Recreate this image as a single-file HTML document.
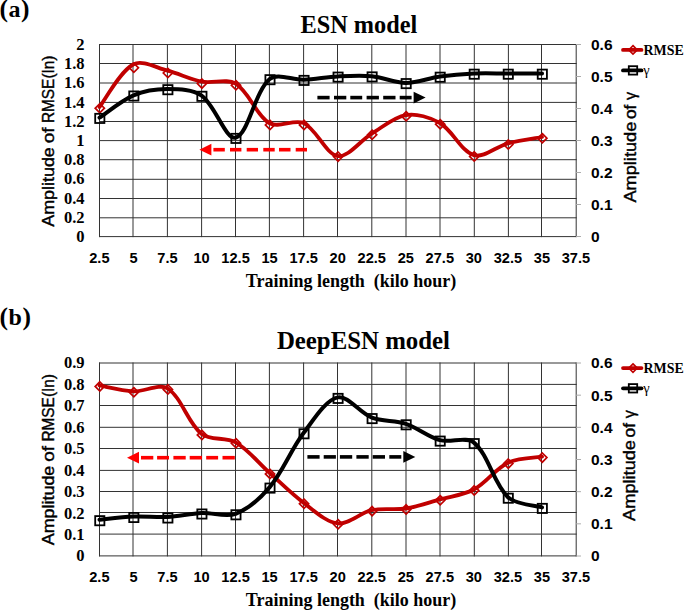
<!DOCTYPE html>
<html><head><meta charset="utf-8">
<style>
html,body{margin:0;padding:0;background:#fff;}
body{width:685px;height:610px;overflow:hidden;font-family:"Liberation Sans", sans-serif;}
svg{display:block;}
</style></head>
<body>
<svg width="685" height="610" viewBox="0 0 685 610">
<rect x="0" y="0" width="685" height="610" fill="#fff"/>
<line x1="99.00" y1="44.50" x2="576.70" y2="44.50" stroke="#333333" stroke-width="1"/>
<line x1="99.00" y1="63.50" x2="576.70" y2="63.50" stroke="#333333" stroke-width="1"/>
<line x1="99.00" y1="83.00" x2="576.70" y2="83.00" stroke="#333333" stroke-width="1"/>
<line x1="99.00" y1="102.40" x2="576.70" y2="102.40" stroke="#333333" stroke-width="1"/>
<line x1="99.00" y1="121.50" x2="576.70" y2="121.50" stroke="#333333" stroke-width="1"/>
<line x1="99.00" y1="140.60" x2="576.70" y2="140.60" stroke="#333333" stroke-width="1"/>
<line x1="99.00" y1="159.70" x2="576.70" y2="159.70" stroke="#333333" stroke-width="1"/>
<line x1="99.00" y1="179.30" x2="576.70" y2="179.30" stroke="#333333" stroke-width="1"/>
<line x1="99.00" y1="198.50" x2="576.70" y2="198.50" stroke="#333333" stroke-width="1"/>
<line x1="99.00" y1="217.80" x2="576.70" y2="217.80" stroke="#333333" stroke-width="1"/>
<line x1="99.00" y1="236.60" x2="576.70" y2="236.60" stroke="#333333" stroke-width="1"/>
<line x1="99.50" y1="44.00" x2="99.50" y2="237.10" stroke="#333333" stroke-width="1"/>
<line x1="133.00" y1="44.00" x2="133.00" y2="237.10" stroke="#333333" stroke-width="1"/>
<line x1="167.40" y1="44.00" x2="167.40" y2="237.10" stroke="#333333" stroke-width="1"/>
<line x1="201.60" y1="44.00" x2="201.60" y2="237.10" stroke="#333333" stroke-width="1"/>
<line x1="235.50" y1="44.00" x2="235.50" y2="237.10" stroke="#333333" stroke-width="1"/>
<line x1="269.40" y1="44.00" x2="269.40" y2="237.10" stroke="#333333" stroke-width="1"/>
<line x1="303.60" y1="44.00" x2="303.60" y2="237.10" stroke="#333333" stroke-width="1"/>
<line x1="337.50" y1="44.00" x2="337.50" y2="237.10" stroke="#333333" stroke-width="1"/>
<line x1="371.80" y1="44.00" x2="371.80" y2="237.10" stroke="#333333" stroke-width="1"/>
<line x1="406.00" y1="44.00" x2="406.00" y2="237.10" stroke="#333333" stroke-width="1"/>
<line x1="440.00" y1="44.00" x2="440.00" y2="237.10" stroke="#333333" stroke-width="1"/>
<line x1="474.30" y1="44.00" x2="474.30" y2="237.10" stroke="#333333" stroke-width="1"/>
<line x1="508.40" y1="44.00" x2="508.40" y2="237.10" stroke="#333333" stroke-width="1"/>
<line x1="541.50" y1="44.00" x2="541.50" y2="237.10" stroke="#333333" stroke-width="1"/>
<line x1="576.20" y1="44.00" x2="576.20" y2="237.10" stroke="#333333" stroke-width="1"/>
<line x1="575.96" y1="44.50" x2="580.96" y2="44.50" stroke="#aaa" stroke-width="1"/>
<line x1="575.96" y1="76.50" x2="580.96" y2="76.50" stroke="#aaa" stroke-width="1"/>
<line x1="575.96" y1="108.50" x2="580.96" y2="108.50" stroke="#aaa" stroke-width="1"/>
<line x1="575.96" y1="140.50" x2="580.96" y2="140.50" stroke="#aaa" stroke-width="1"/>
<line x1="575.96" y1="172.50" x2="580.96" y2="172.50" stroke="#aaa" stroke-width="1"/>
<line x1="575.96" y1="204.50" x2="580.96" y2="204.50" stroke="#aaa" stroke-width="1"/>
<line x1="575.96" y1="236.50" x2="580.96" y2="236.50" stroke="#aaa" stroke-width="1"/>
<text x="84.50" y="49.90" font-size="16.50" font-family='"Liberation Serif", serif' font-weight="bold" text-anchor="end" fill="#000" >2</text>
<text x="84.50" y="69.10" font-size="16.50" font-family='"Liberation Serif", serif' font-weight="bold" text-anchor="end" fill="#000" >1.8</text>
<text x="84.50" y="88.30" font-size="16.50" font-family='"Liberation Serif", serif' font-weight="bold" text-anchor="end" fill="#000" >1.6</text>
<text x="84.50" y="107.50" font-size="16.50" font-family='"Liberation Serif", serif' font-weight="bold" text-anchor="end" fill="#000" >1.4</text>
<text x="84.50" y="126.70" font-size="16.50" font-family='"Liberation Serif", serif' font-weight="bold" text-anchor="end" fill="#000" >1.2</text>
<text x="84.50" y="145.90" font-size="16.50" font-family='"Liberation Serif", serif' font-weight="bold" text-anchor="end" fill="#000" >1</text>
<text x="84.50" y="165.10" font-size="16.50" font-family='"Liberation Serif", serif' font-weight="bold" text-anchor="end" fill="#000" >0.8</text>
<text x="84.50" y="184.30" font-size="16.50" font-family='"Liberation Serif", serif' font-weight="bold" text-anchor="end" fill="#000" >0.6</text>
<text x="84.50" y="203.50" font-size="16.50" font-family='"Liberation Serif", serif' font-weight="bold" text-anchor="end" fill="#000" >0.4</text>
<text x="84.50" y="222.70" font-size="16.50" font-family='"Liberation Serif", serif' font-weight="bold" text-anchor="end" fill="#000" >0.2</text>
<text x="84.50" y="241.90" font-size="16.50" font-family='"Liberation Serif", serif' font-weight="bold" text-anchor="end" fill="#000" >0</text>
<text x="591.00" y="49.90" font-size="15.50" font-family='"Liberation Sans", sans-serif' font-weight="bold" text-anchor="start" fill="#000" >0.6</text>
<text x="591.00" y="81.90" font-size="15.50" font-family='"Liberation Sans", sans-serif' font-weight="bold" text-anchor="start" fill="#000" >0.5</text>
<text x="591.00" y="113.90" font-size="15.50" font-family='"Liberation Sans", sans-serif' font-weight="bold" text-anchor="start" fill="#000" >0.4</text>
<text x="591.00" y="145.90" font-size="15.50" font-family='"Liberation Sans", sans-serif' font-weight="bold" text-anchor="start" fill="#000" >0.3</text>
<text x="591.00" y="177.90" font-size="15.50" font-family='"Liberation Sans", sans-serif' font-weight="bold" text-anchor="start" fill="#000" >0.2</text>
<text x="591.00" y="209.90" font-size="15.50" font-family='"Liberation Sans", sans-serif' font-weight="bold" text-anchor="start" fill="#000" >0.1</text>
<text x="591.00" y="241.90" font-size="15.50" font-family='"Liberation Sans", sans-serif' font-weight="bold" text-anchor="start" fill="#000" >0</text>
<text x="99.40" y="263.30" font-size="14.60" font-family='"Liberation Sans", sans-serif' font-weight="bold" text-anchor="middle" fill="#000" >2.5</text>
<text x="133.44" y="263.30" font-size="14.60" font-family='"Liberation Sans", sans-serif' font-weight="bold" text-anchor="middle" fill="#000" >5</text>
<text x="167.48" y="263.30" font-size="14.60" font-family='"Liberation Sans", sans-serif' font-weight="bold" text-anchor="middle" fill="#000" >7.5</text>
<text x="201.52" y="263.30" font-size="14.60" font-family='"Liberation Sans", sans-serif' font-weight="bold" text-anchor="middle" fill="#000" >10</text>
<text x="235.56" y="263.30" font-size="14.60" font-family='"Liberation Sans", sans-serif' font-weight="bold" text-anchor="middle" fill="#000" >12.5</text>
<text x="269.60" y="263.30" font-size="14.60" font-family='"Liberation Sans", sans-serif' font-weight="bold" text-anchor="middle" fill="#000" >15</text>
<text x="303.64" y="263.30" font-size="14.60" font-family='"Liberation Sans", sans-serif' font-weight="bold" text-anchor="middle" fill="#000" >17.5</text>
<text x="337.68" y="263.30" font-size="14.60" font-family='"Liberation Sans", sans-serif' font-weight="bold" text-anchor="middle" fill="#000" >20</text>
<text x="371.72" y="263.30" font-size="14.60" font-family='"Liberation Sans", sans-serif' font-weight="bold" text-anchor="middle" fill="#000" >22.5</text>
<text x="405.76" y="263.30" font-size="14.60" font-family='"Liberation Sans", sans-serif' font-weight="bold" text-anchor="middle" fill="#000" >25</text>
<text x="439.80" y="263.30" font-size="14.60" font-family='"Liberation Sans", sans-serif' font-weight="bold" text-anchor="middle" fill="#000" >27.5</text>
<text x="473.84" y="263.30" font-size="14.60" font-family='"Liberation Sans", sans-serif' font-weight="bold" text-anchor="middle" fill="#000" >30</text>
<text x="507.88" y="263.30" font-size="14.60" font-family='"Liberation Sans", sans-serif' font-weight="bold" text-anchor="middle" fill="#000" >32.5</text>
<text x="541.92" y="263.30" font-size="14.60" font-family='"Liberation Sans", sans-serif' font-weight="bold" text-anchor="middle" fill="#000" >35</text>
<text x="575.96" y="263.30" font-size="14.60" font-family='"Liberation Sans", sans-serif' font-weight="bold" text-anchor="middle" fill="#000" >37.5</text>
<text x="245.80" y="287.30" font-size="19.00" font-family='"Liberation Serif", serif' font-weight="bold" text-anchor="start" fill="#000" textLength="210.50" lengthAdjust="spacingAndGlyphs" >Training length&#160;&#160;(kilo hour)</text>
<text x="54.30" y="226.70" font-size="16.00" font-family='"Liberation Sans", sans-serif' font-weight="normal" text-anchor="start" fill="#000" textLength="79.50" lengthAdjust="spacingAndGlyphs" transform="rotate(-90 54.30 226.70)" stroke="#000" stroke-width="0.40">Amplitude</text>
<text x="54.30" y="143.30" font-size="16.00" font-family='"Liberation Sans", sans-serif' font-weight="normal" text-anchor="start" fill="#000" textLength="15.76" lengthAdjust="spacingAndGlyphs" transform="rotate(-90 54.30 143.30)" stroke="#000" stroke-width="0.40">of</text>
<text x="54.30" y="123.10" font-size="16.00" font-family='"Liberation Sans", sans-serif' font-weight="normal" text-anchor="start" fill="#000" textLength="67.60" lengthAdjust="spacingAndGlyphs" transform="rotate(-90 54.30 123.10)" stroke="#000" stroke-width="0.40">RMSE(In)</text>
<text x="635.60" y="202.60" font-size="16.00" font-family='"Liberation Sans", sans-serif' font-weight="normal" text-anchor="start" fill="#000" textLength="80.90" lengthAdjust="spacingAndGlyphs" transform="rotate(-90 635.60 202.60)" stroke="#000" stroke-width="0.40">Amplitude</text>
<text x="635.60" y="119.10" font-size="16.00" font-family='"Liberation Sans", sans-serif' font-weight="normal" text-anchor="start" fill="#000" textLength="14.47" lengthAdjust="spacingAndGlyphs" transform="rotate(-90 635.60 119.10)" stroke="#000" stroke-width="0.40">of</text>
<text x="635.60" y="99.90" font-size="16.00" font-family='"Liberation Sans", sans-serif' font-weight="normal" text-anchor="start" fill="#000" textLength="8.10" lengthAdjust="spacingAndGlyphs" transform="rotate(-90 635.60 99.90)" stroke="#000" stroke-width="0.40">&#947;</text>
<text x="300.50" y="33.40" font-size="25.00" font-family='"Liberation Serif", serif' font-weight="bold" text-anchor="start" fill="#000" textLength="116.70" lengthAdjust="spacingAndGlyphs" >ESN model</text>
<text x="-0.6" y="17.30" font-size="25.5" font-family='"Liberation Serif", serif' font-weight="bold">(<tspan dx="0.6" font-size="24">a</tspan><tspan dx="0.6">)</tspan></text>
<line x1="623" y1="49.90" x2="641.5" y2="49.90" stroke="#c00000" stroke-width="3.8" stroke-linecap="round"/>
<path d="M633.00,45.70 L637.20,49.90 L633.00,54.10 L628.80,49.90 Z" fill="none" stroke="#c00000" stroke-width="1.7"/>
<text x="643.50" y="54.90" font-size="14.00" font-family='"Liberation Serif", serif' font-weight="bold" text-anchor="start" fill="#000" textLength="40.20" lengthAdjust="spacingAndGlyphs" >RMSE</text>
<line x1="623" y1="70.40" x2="641.5" y2="70.40" stroke="#000" stroke-width="3.8" stroke-linecap="round"/>
<rect x="628.80" y="66.20" width="8.40" height="8.40" fill="none" stroke="#000" stroke-width="1.8"/>
<text x="643.30" y="75.00" font-size="14.50" font-family='"Liberation Serif", serif' font-weight="normal" text-anchor="start" fill="#000" >&#947;</text>
<path d="M99.80,103.60 L104.40,108.20 L99.80,112.80 L95.20,108.20 Z" fill="none" stroke="#c00000" stroke-width="1.7"/>
<path d="M133.84,63.20 L138.44,67.80 L133.84,72.40 L129.24,67.80 Z" fill="none" stroke="#c00000" stroke-width="1.7"/>
<path d="M167.88,68.40 L172.48,73.00 L167.88,77.60 L163.28,73.00 Z" fill="none" stroke="#c00000" stroke-width="1.7"/>
<path d="M201.92,79.00 L206.52,83.60 L201.92,88.20 L197.32,83.60 Z" fill="none" stroke="#c00000" stroke-width="1.7"/>
<path d="M235.96,80.60 L240.56,85.20 L235.96,89.80 L231.36,85.20 Z" fill="none" stroke="#c00000" stroke-width="1.7"/>
<path d="M270.00,120.30 L274.60,124.90 L270.00,129.50 L265.40,124.90 Z" fill="none" stroke="#c00000" stroke-width="1.7"/>
<path d="M304.04,120.30 L308.64,124.90 L304.04,129.50 L299.44,124.90 Z" fill="none" stroke="#c00000" stroke-width="1.7"/>
<path d="M338.08,152.00 L342.68,156.60 L338.08,161.20 L333.48,156.60 Z" fill="none" stroke="#c00000" stroke-width="1.7"/>
<path d="M372.12,130.20 L376.72,134.80 L372.12,139.40 L367.52,134.80 Z" fill="none" stroke="#c00000" stroke-width="1.7"/>
<path d="M406.16,111.70 L410.76,116.30 L406.16,120.90 L401.56,116.30 Z" fill="none" stroke="#c00000" stroke-width="1.7"/>
<path d="M440.20,119.60 L444.80,124.20 L440.20,128.80 L435.60,124.20 Z" fill="none" stroke="#c00000" stroke-width="1.7"/>
<path d="M474.24,151.80 L478.84,156.40 L474.24,161.00 L469.64,156.40 Z" fill="none" stroke="#c00000" stroke-width="1.7"/>
<path d="M508.28,139.90 L512.88,144.50 L508.28,149.10 L503.68,144.50 Z" fill="none" stroke="#c00000" stroke-width="1.7"/>
<path d="M542.32,133.60 L546.92,138.20 L542.32,142.80 L537.72,138.20 Z" fill="none" stroke="#c00000" stroke-width="1.7"/>
<rect x="95.20" y="113.80" width="9.20" height="9.20" fill="none" stroke="#000" stroke-width="1.8"/>
<rect x="129.24" y="91.40" width="9.20" height="9.20" fill="none" stroke="#000" stroke-width="1.8"/>
<rect x="163.28" y="85.10" width="9.20" height="9.20" fill="none" stroke="#000" stroke-width="1.8"/>
<rect x="197.32" y="91.70" width="9.20" height="9.20" fill="none" stroke="#000" stroke-width="1.8"/>
<rect x="231.36" y="133.80" width="9.20" height="9.20" fill="none" stroke="#000" stroke-width="1.8"/>
<rect x="265.40" y="75.10" width="9.20" height="9.20" fill="none" stroke="#000" stroke-width="1.8"/>
<rect x="299.44" y="75.80" width="9.20" height="9.20" fill="none" stroke="#000" stroke-width="1.8"/>
<rect x="333.48" y="72.50" width="9.20" height="9.20" fill="none" stroke="#000" stroke-width="1.8"/>
<rect x="367.52" y="72.30" width="9.20" height="9.20" fill="none" stroke="#000" stroke-width="1.8"/>
<rect x="401.56" y="79.00" width="9.20" height="9.20" fill="none" stroke="#000" stroke-width="1.8"/>
<rect x="435.60" y="72.60" width="9.20" height="9.20" fill="none" stroke="#000" stroke-width="1.8"/>
<rect x="469.64" y="69.60" width="9.20" height="9.20" fill="none" stroke="#000" stroke-width="1.8"/>
<rect x="503.68" y="69.60" width="9.20" height="9.20" fill="none" stroke="#000" stroke-width="1.8"/>
<rect x="537.72" y="69.60" width="9.20" height="9.20" fill="none" stroke="#000" stroke-width="1.8"/>
<path d="M99.50,107.00 C105.17,99.88 119.65,71.70 133.54,64.30 C142.35,59.60 156.41,67.86 167.58,70.70 C179.11,73.63 190.01,79.38 201.62,81.60 C212.70,83.72 226.70,78.20 235.66,83.70 C249.40,92.13 255.95,115.44 269.70,123.40 C278.65,128.58 294.25,118.55 303.74,123.10 C316.94,129.42 325.58,154.12 337.78,156.00 C348.28,157.62 360.19,140.59 371.82,133.60 C382.88,126.96 393.93,116.96 405.86,115.10 C416.62,113.42 430.21,117.29 439.90,123.00 C452.90,130.66 461.12,151.38 473.94,155.20 C483.81,158.14 496.40,146.40 507.98,143.30 C519.10,140.33 536.35,138.05 542.02,137.00" fill="none" stroke="#c00000" stroke-width="3.8" stroke-linecap="round" stroke-linejoin="round"/>
<path d="M99.50,117.70 C105.17,113.97 121.27,100.47 133.54,95.30 C143.96,90.91 156.24,88.95 167.58,89.00 C178.94,89.05 192.76,89.26 201.62,95.60 C215.45,105.50 225.59,140.16 235.66,137.70 C248.28,134.62 254.59,91.87 269.70,79.00 C277.28,72.54 292.42,80.13 303.74,79.70 C315.11,79.27 326.41,76.98 337.78,76.40 C349.10,75.82 360.58,75.13 371.82,76.20 C383.27,77.29 394.50,82.85 405.86,82.90 C417.20,82.95 428.48,78.08 439.90,76.50 C451.17,74.94 462.57,74.00 473.94,73.50 C485.26,73.00 496.63,73.50 507.98,73.50 C519.33,73.50 536.35,73.50 542.02,73.50" fill="none" stroke="#000" stroke-width="4.0" stroke-linecap="round" stroke-linejoin="round"/>
<rect x="213.40" y="147.90" width="11.40" height="3.60" fill="#ff0000"/>
<rect x="230.00" y="147.90" width="11.40" height="3.60" fill="#ff0000"/>
<rect x="246.70" y="147.90" width="11.30" height="3.60" fill="#ff0000"/>
<rect x="263.30" y="147.90" width="11.40" height="3.60" fill="#ff0000"/>
<rect x="279.00" y="147.90" width="11.50" height="3.60" fill="#ff0000"/>
<rect x="295.70" y="147.90" width="11.30" height="3.60" fill="#ff0000"/>
<path d="M199.40,149.70 L211.40,143.85 L211.40,155.55 Z" fill="#ff0000"/>
<rect x="317.40" y="95.80" width="12.20" height="3.60" fill="#000"/>
<rect x="334.00" y="95.80" width="12.30" height="3.60" fill="#000"/>
<rect x="350.30" y="95.80" width="11.90" height="3.60" fill="#000"/>
<rect x="366.60" y="95.80" width="12.30" height="3.60" fill="#000"/>
<rect x="383.20" y="95.80" width="12.30" height="3.60" fill="#000"/>
<rect x="399.70" y="95.80" width="11.90" height="3.60" fill="#000"/>
<path d="M425.60,97.60 L413.60,91.75 L413.60,103.45 Z" fill="#000"/>
<line x1="99.00" y1="363.00" x2="576.70" y2="363.00" stroke="#333333" stroke-width="1"/>
<line x1="99.00" y1="384.40" x2="576.70" y2="384.40" stroke="#333333" stroke-width="1"/>
<line x1="99.00" y1="405.50" x2="576.70" y2="405.50" stroke="#333333" stroke-width="1"/>
<line x1="99.00" y1="427.30" x2="576.70" y2="427.30" stroke="#333333" stroke-width="1"/>
<line x1="99.00" y1="448.50" x2="576.70" y2="448.50" stroke="#333333" stroke-width="1"/>
<line x1="99.00" y1="470.40" x2="576.70" y2="470.40" stroke="#333333" stroke-width="1"/>
<line x1="99.00" y1="491.50" x2="576.70" y2="491.50" stroke="#333333" stroke-width="1"/>
<line x1="99.00" y1="512.50" x2="576.70" y2="512.50" stroke="#333333" stroke-width="1"/>
<line x1="99.00" y1="534.10" x2="576.70" y2="534.10" stroke="#333333" stroke-width="1"/>
<line x1="99.00" y1="555.90" x2="576.70" y2="555.90" stroke="#333333" stroke-width="1"/>
<line x1="99.50" y1="362.50" x2="99.50" y2="556.40" stroke="#333333" stroke-width="1"/>
<line x1="133.00" y1="362.50" x2="133.00" y2="556.40" stroke="#333333" stroke-width="1"/>
<line x1="167.40" y1="362.50" x2="167.40" y2="556.40" stroke="#333333" stroke-width="1"/>
<line x1="201.60" y1="362.50" x2="201.60" y2="556.40" stroke="#333333" stroke-width="1"/>
<line x1="235.50" y1="362.50" x2="235.50" y2="556.40" stroke="#333333" stroke-width="1"/>
<line x1="269.40" y1="362.50" x2="269.40" y2="556.40" stroke="#333333" stroke-width="1"/>
<line x1="303.60" y1="362.50" x2="303.60" y2="556.40" stroke="#333333" stroke-width="1"/>
<line x1="337.50" y1="362.50" x2="337.50" y2="556.40" stroke="#333333" stroke-width="1"/>
<line x1="371.80" y1="362.50" x2="371.80" y2="556.40" stroke="#333333" stroke-width="1"/>
<line x1="406.00" y1="362.50" x2="406.00" y2="556.40" stroke="#333333" stroke-width="1"/>
<line x1="440.00" y1="362.50" x2="440.00" y2="556.40" stroke="#333333" stroke-width="1"/>
<line x1="474.30" y1="362.50" x2="474.30" y2="556.40" stroke="#333333" stroke-width="1"/>
<line x1="508.40" y1="362.50" x2="508.40" y2="556.40" stroke="#333333" stroke-width="1"/>
<line x1="541.50" y1="362.50" x2="541.50" y2="556.40" stroke="#333333" stroke-width="1"/>
<line x1="576.20" y1="362.50" x2="576.20" y2="556.40" stroke="#333333" stroke-width="1"/>
<line x1="575.96" y1="363.00" x2="580.96" y2="363.00" stroke="#aaa" stroke-width="1"/>
<line x1="575.96" y1="395.17" x2="580.96" y2="395.17" stroke="#aaa" stroke-width="1"/>
<line x1="575.96" y1="427.33" x2="580.96" y2="427.33" stroke="#aaa" stroke-width="1"/>
<line x1="575.96" y1="459.50" x2="580.96" y2="459.50" stroke="#aaa" stroke-width="1"/>
<line x1="575.96" y1="491.67" x2="580.96" y2="491.67" stroke="#aaa" stroke-width="1"/>
<line x1="575.96" y1="523.83" x2="580.96" y2="523.83" stroke="#aaa" stroke-width="1"/>
<line x1="575.96" y1="556.00" x2="580.96" y2="556.00" stroke="#aaa" stroke-width="1"/>
<text x="84.50" y="368.40" font-size="16.50" font-family='"Liberation Serif", serif' font-weight="bold" text-anchor="end" fill="#000" >0.9</text>
<text x="84.50" y="389.84" font-size="16.50" font-family='"Liberation Serif", serif' font-weight="bold" text-anchor="end" fill="#000" >0.8</text>
<text x="84.50" y="411.29" font-size="16.50" font-family='"Liberation Serif", serif' font-weight="bold" text-anchor="end" fill="#000" >0.7</text>
<text x="84.50" y="432.73" font-size="16.50" font-family='"Liberation Serif", serif' font-weight="bold" text-anchor="end" fill="#000" >0.6</text>
<text x="84.50" y="454.18" font-size="16.50" font-family='"Liberation Serif", serif' font-weight="bold" text-anchor="end" fill="#000" >0.5</text>
<text x="84.50" y="475.62" font-size="16.50" font-family='"Liberation Serif", serif' font-weight="bold" text-anchor="end" fill="#000" >0.4</text>
<text x="84.50" y="497.07" font-size="16.50" font-family='"Liberation Serif", serif' font-weight="bold" text-anchor="end" fill="#000" >0.3</text>
<text x="84.50" y="518.51" font-size="16.50" font-family='"Liberation Serif", serif' font-weight="bold" text-anchor="end" fill="#000" >0.2</text>
<text x="84.50" y="539.96" font-size="16.50" font-family='"Liberation Serif", serif' font-weight="bold" text-anchor="end" fill="#000" >0.1</text>
<text x="84.50" y="561.40" font-size="16.50" font-family='"Liberation Serif", serif' font-weight="bold" text-anchor="end" fill="#000" >0</text>
<text x="591.00" y="368.40" font-size="15.50" font-family='"Liberation Sans", sans-serif' font-weight="bold" text-anchor="start" fill="#000" >0.6</text>
<text x="591.00" y="400.57" font-size="15.50" font-family='"Liberation Sans", sans-serif' font-weight="bold" text-anchor="start" fill="#000" >0.5</text>
<text x="591.00" y="432.73" font-size="15.50" font-family='"Liberation Sans", sans-serif' font-weight="bold" text-anchor="start" fill="#000" >0.4</text>
<text x="591.00" y="464.90" font-size="15.50" font-family='"Liberation Sans", sans-serif' font-weight="bold" text-anchor="start" fill="#000" >0.3</text>
<text x="591.00" y="497.07" font-size="15.50" font-family='"Liberation Sans", sans-serif' font-weight="bold" text-anchor="start" fill="#000" >0.2</text>
<text x="591.00" y="529.23" font-size="15.50" font-family='"Liberation Sans", sans-serif' font-weight="bold" text-anchor="start" fill="#000" >0.1</text>
<text x="591.00" y="561.40" font-size="15.50" font-family='"Liberation Sans", sans-serif' font-weight="bold" text-anchor="start" fill="#000" >0</text>
<text x="99.40" y="582.00" font-size="14.60" font-family='"Liberation Sans", sans-serif' font-weight="bold" text-anchor="middle" fill="#000" >2.5</text>
<text x="133.44" y="582.00" font-size="14.60" font-family='"Liberation Sans", sans-serif' font-weight="bold" text-anchor="middle" fill="#000" >5</text>
<text x="167.48" y="582.00" font-size="14.60" font-family='"Liberation Sans", sans-serif' font-weight="bold" text-anchor="middle" fill="#000" >7.5</text>
<text x="201.52" y="582.00" font-size="14.60" font-family='"Liberation Sans", sans-serif' font-weight="bold" text-anchor="middle" fill="#000" >10</text>
<text x="235.56" y="582.00" font-size="14.60" font-family='"Liberation Sans", sans-serif' font-weight="bold" text-anchor="middle" fill="#000" >12.5</text>
<text x="269.60" y="582.00" font-size="14.60" font-family='"Liberation Sans", sans-serif' font-weight="bold" text-anchor="middle" fill="#000" >15</text>
<text x="303.64" y="582.00" font-size="14.60" font-family='"Liberation Sans", sans-serif' font-weight="bold" text-anchor="middle" fill="#000" >17.5</text>
<text x="337.68" y="582.00" font-size="14.60" font-family='"Liberation Sans", sans-serif' font-weight="bold" text-anchor="middle" fill="#000" >20</text>
<text x="371.72" y="582.00" font-size="14.60" font-family='"Liberation Sans", sans-serif' font-weight="bold" text-anchor="middle" fill="#000" >22.5</text>
<text x="405.76" y="582.00" font-size="14.60" font-family='"Liberation Sans", sans-serif' font-weight="bold" text-anchor="middle" fill="#000" >25</text>
<text x="439.80" y="582.00" font-size="14.60" font-family='"Liberation Sans", sans-serif' font-weight="bold" text-anchor="middle" fill="#000" >27.5</text>
<text x="473.84" y="582.00" font-size="14.60" font-family='"Liberation Sans", sans-serif' font-weight="bold" text-anchor="middle" fill="#000" >30</text>
<text x="507.88" y="582.00" font-size="14.60" font-family='"Liberation Sans", sans-serif' font-weight="bold" text-anchor="middle" fill="#000" >32.5</text>
<text x="541.92" y="582.00" font-size="14.60" font-family='"Liberation Sans", sans-serif' font-weight="bold" text-anchor="middle" fill="#000" >35</text>
<text x="575.96" y="582.00" font-size="14.60" font-family='"Liberation Sans", sans-serif' font-weight="bold" text-anchor="middle" fill="#000" >37.5</text>
<text x="245.80" y="605.50" font-size="19.00" font-family='"Liberation Serif", serif' font-weight="bold" text-anchor="start" fill="#000" textLength="210.50" lengthAdjust="spacingAndGlyphs" >Training length&#160;&#160;(kilo hour)</text>
<text x="54.00" y="545.20" font-size="16.00" font-family='"Liberation Sans", sans-serif' font-weight="normal" text-anchor="start" fill="#000" textLength="79.50" lengthAdjust="spacingAndGlyphs" transform="rotate(-90 54.00 545.20)" stroke="#000" stroke-width="0.40">Amplitude</text>
<text x="54.00" y="461.80" font-size="16.00" font-family='"Liberation Sans", sans-serif' font-weight="normal" text-anchor="start" fill="#000" textLength="15.76" lengthAdjust="spacingAndGlyphs" transform="rotate(-90 54.00 461.80)" stroke="#000" stroke-width="0.40">of</text>
<text x="54.00" y="441.60" font-size="16.00" font-family='"Liberation Sans", sans-serif' font-weight="normal" text-anchor="start" fill="#000" textLength="67.60" lengthAdjust="spacingAndGlyphs" transform="rotate(-90 54.00 441.60)" stroke="#000" stroke-width="0.40">RMSE(In)</text>
<text x="635.30" y="520.90" font-size="16.00" font-family='"Liberation Sans", sans-serif' font-weight="normal" text-anchor="start" fill="#000" textLength="80.90" lengthAdjust="spacingAndGlyphs" transform="rotate(-90 635.30 520.90)" stroke="#000" stroke-width="0.40">Amplitude</text>
<text x="635.30" y="437.40" font-size="16.00" font-family='"Liberation Sans", sans-serif' font-weight="normal" text-anchor="start" fill="#000" textLength="14.47" lengthAdjust="spacingAndGlyphs" transform="rotate(-90 635.30 437.40)" stroke="#000" stroke-width="0.40">of</text>
<text x="635.30" y="418.20" font-size="16.00" font-family='"Liberation Sans", sans-serif' font-weight="normal" text-anchor="start" fill="#000" textLength="8.10" lengthAdjust="spacingAndGlyphs" transform="rotate(-90 635.30 418.20)" stroke="#000" stroke-width="0.40">&#947;</text>
<text x="276.90" y="348.70" font-size="25.00" font-family='"Liberation Serif", serif' font-weight="bold" text-anchor="start" fill="#000" textLength="173.10" lengthAdjust="spacingAndGlyphs" >DeepESN model</text>
<text x="-0.6" y="324.60" font-size="25.5" font-family='"Liberation Serif", serif' font-weight="bold">(<tspan dx="0.6" font-size="24">b</tspan><tspan dx="0.6">)</tspan></text>
<line x1="623" y1="368.10" x2="641.5" y2="368.10" stroke="#c00000" stroke-width="3.8" stroke-linecap="round"/>
<path d="M633.00,363.90 L637.20,368.10 L633.00,372.30 L628.80,368.10 Z" fill="none" stroke="#c00000" stroke-width="1.7"/>
<text x="643.50" y="373.10" font-size="14.00" font-family='"Liberation Serif", serif' font-weight="bold" text-anchor="start" fill="#000" textLength="40.20" lengthAdjust="spacingAndGlyphs" >RMSE</text>
<line x1="623" y1="388.30" x2="641.5" y2="388.30" stroke="#000" stroke-width="3.8" stroke-linecap="round"/>
<rect x="628.80" y="384.10" width="8.40" height="8.40" fill="none" stroke="#000" stroke-width="1.8"/>
<text x="643.30" y="392.90" font-size="14.50" font-family='"Liberation Serif", serif' font-weight="normal" text-anchor="start" fill="#000" >&#947;</text>
<path d="M99.80,381.80 L104.40,386.40 L99.80,391.00 L95.20,386.40 Z" fill="none" stroke="#c00000" stroke-width="1.7"/>
<path d="M133.84,387.60 L138.44,392.20 L133.84,396.80 L129.24,392.20 Z" fill="none" stroke="#c00000" stroke-width="1.7"/>
<path d="M167.88,384.80 L172.48,389.40 L167.88,394.00 L163.28,389.40 Z" fill="none" stroke="#c00000" stroke-width="1.7"/>
<path d="M201.92,430.30 L206.52,434.90 L201.92,439.50 L197.32,434.90 Z" fill="none" stroke="#c00000" stroke-width="1.7"/>
<path d="M235.96,438.70 L240.56,443.30 L235.96,447.90 L231.36,443.30 Z" fill="none" stroke="#c00000" stroke-width="1.7"/>
<path d="M270.00,469.30 L274.60,473.90 L270.00,478.50 L265.40,473.90 Z" fill="none" stroke="#c00000" stroke-width="1.7"/>
<path d="M304.04,499.20 L308.64,503.80 L304.04,508.40 L299.44,503.80 Z" fill="none" stroke="#c00000" stroke-width="1.7"/>
<path d="M338.08,519.70 L342.68,524.30 L338.08,528.90 L333.48,524.30 Z" fill="none" stroke="#c00000" stroke-width="1.7"/>
<path d="M372.12,506.50 L376.72,511.10 L372.12,515.70 L367.52,511.10 Z" fill="none" stroke="#c00000" stroke-width="1.7"/>
<path d="M406.16,504.80 L410.76,509.40 L406.16,514.00 L401.56,509.40 Z" fill="none" stroke="#c00000" stroke-width="1.7"/>
<path d="M440.20,495.70 L444.80,500.30 L440.20,504.90 L435.60,500.30 Z" fill="none" stroke="#c00000" stroke-width="1.7"/>
<path d="M474.24,485.80 L478.84,490.40 L474.24,495.00 L469.64,490.40 Z" fill="none" stroke="#c00000" stroke-width="1.7"/>
<path d="M508.28,459.00 L512.88,463.60 L508.28,468.20 L503.68,463.60 Z" fill="none" stroke="#c00000" stroke-width="1.7"/>
<path d="M542.32,453.00 L546.92,457.60 L542.32,462.20 L537.72,457.60 Z" fill="none" stroke="#c00000" stroke-width="1.7"/>
<rect x="95.20" y="516.10" width="9.20" height="9.20" fill="none" stroke="#000" stroke-width="1.8"/>
<rect x="129.24" y="512.90" width="9.20" height="9.20" fill="none" stroke="#000" stroke-width="1.8"/>
<rect x="163.28" y="513.40" width="9.20" height="9.20" fill="none" stroke="#000" stroke-width="1.8"/>
<rect x="197.32" y="509.40" width="9.20" height="9.20" fill="none" stroke="#000" stroke-width="1.8"/>
<rect x="231.36" y="510.20" width="9.20" height="9.20" fill="none" stroke="#000" stroke-width="1.8"/>
<rect x="265.40" y="483.50" width="9.20" height="9.20" fill="none" stroke="#000" stroke-width="1.8"/>
<rect x="299.44" y="429.20" width="9.20" height="9.20" fill="none" stroke="#000" stroke-width="1.8"/>
<rect x="333.48" y="393.80" width="9.20" height="9.20" fill="none" stroke="#000" stroke-width="1.8"/>
<rect x="367.52" y="414.00" width="9.20" height="9.20" fill="none" stroke="#000" stroke-width="1.8"/>
<rect x="401.56" y="420.20" width="9.20" height="9.20" fill="none" stroke="#000" stroke-width="1.8"/>
<rect x="435.60" y="436.50" width="9.20" height="9.20" fill="none" stroke="#000" stroke-width="1.8"/>
<rect x="469.64" y="439.00" width="9.20" height="9.20" fill="none" stroke="#000" stroke-width="1.8"/>
<rect x="503.68" y="493.60" width="9.20" height="9.20" fill="none" stroke="#000" stroke-width="1.8"/>
<rect x="537.72" y="503.80" width="9.20" height="9.20" fill="none" stroke="#000" stroke-width="1.8"/>
<path d="M99.50,385.50 C105.17,386.47 122.13,390.80 133.54,391.30 C144.82,391.80 159.06,383.16 167.58,388.50 C181.75,397.39 187.59,422.89 201.62,434.00 C210.28,440.86 225.82,436.76 235.66,442.40 C248.51,449.76 258.30,462.87 269.70,473.00 C280.99,483.03 291.65,493.95 303.74,502.90 C314.34,510.75 325.95,522.13 337.78,523.40 C348.65,524.57 360.08,512.77 371.82,510.20 C382.78,507.80 394.70,510.27 405.86,508.50 C417.40,506.67 428.59,502.56 439.90,499.40 C451.28,496.22 463.73,495.01 473.94,489.50 C486.42,482.77 495.36,468.78 507.98,462.70 C518.05,457.85 536.35,457.70 542.02,456.70" fill="none" stroke="#c00000" stroke-width="3.8" stroke-linecap="round" stroke-linejoin="round"/>
<path d="M99.50,519.70 C105.17,519.17 122.17,516.95 133.54,516.50 C144.86,516.05 156.27,517.58 167.58,517.00 C178.96,516.41 190.24,513.54 201.62,513.00 C212.93,512.47 225.67,517.60 235.66,513.80 C248.36,508.97 260.55,497.98 269.70,487.10 C283.25,470.98 290.89,449.73 303.74,432.80 C313.59,419.83 325.21,400.21 337.78,397.40 C347.91,395.14 359.71,412.90 371.82,417.60 C382.40,421.70 395.01,420.21 405.86,423.80 C417.70,427.71 427.98,436.81 439.90,440.10 C450.68,443.08 466.07,436.00 473.94,442.60 C488.77,455.04 493.36,483.29 507.98,497.20 C516.05,504.89 536.35,505.70 542.02,507.40" fill="none" stroke="#000" stroke-width="4.0" stroke-linecap="round" stroke-linejoin="round"/>
<rect x="141.00" y="455.90" width="12.30" height="3.60" fill="#ff0000"/>
<rect x="157.10" y="455.90" width="11.90" height="3.60" fill="#ff0000"/>
<rect x="173.40" y="455.90" width="12.30" height="3.60" fill="#ff0000"/>
<rect x="189.70" y="455.90" width="12.30" height="3.60" fill="#ff0000"/>
<rect x="206.20" y="455.90" width="11.90" height="3.60" fill="#ff0000"/>
<rect x="222.50" y="455.90" width="12.30" height="3.60" fill="#ff0000"/>
<path d="M127.00,457.70 L139.00,451.85 L139.00,463.55 Z" fill="#ff0000"/>
<rect x="307.40" y="455.10" width="12.20" height="3.60" fill="#000"/>
<rect x="323.70" y="455.10" width="12.20" height="3.60" fill="#000"/>
<rect x="339.90" y="455.10" width="12.30" height="3.60" fill="#000"/>
<rect x="356.40" y="455.10" width="12.30" height="3.60" fill="#000"/>
<rect x="372.70" y="455.10" width="12.30" height="3.60" fill="#000"/>
<rect x="389.30" y="455.10" width="12.00" height="3.60" fill="#000"/>
<path d="M415.30,456.90 L403.30,451.05 L403.30,462.75 Z" fill="#000"/>
</svg>
</body></html>
